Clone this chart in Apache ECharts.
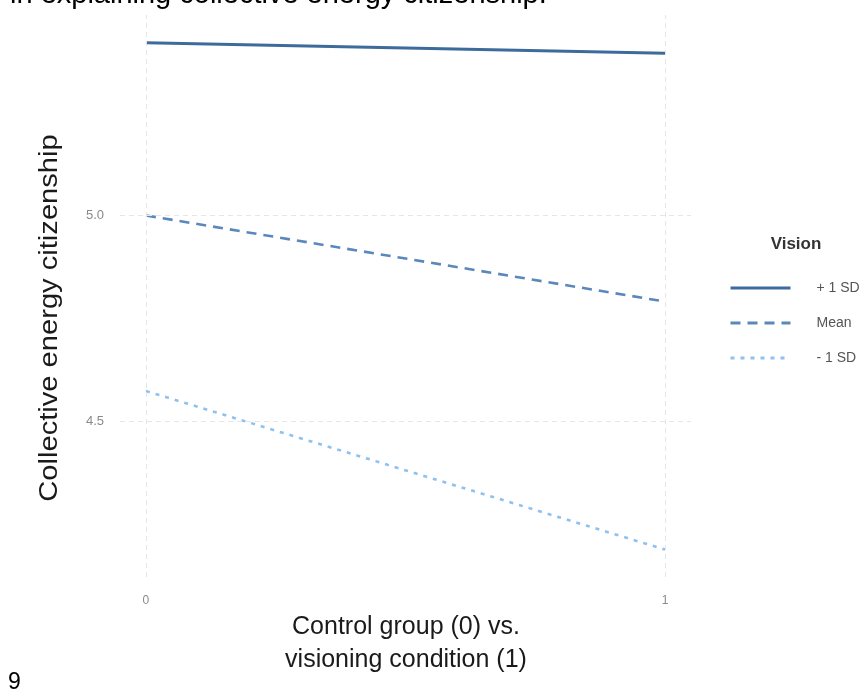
<!DOCTYPE html>
<html>
<head>
<meta charset="utf-8">
<script src="https://cdn.jsdelivr.net/npm/echarts@6/dist/echarts.min.js"></script>
<style>
html,body{margin:0;padding:0;background:#fff;}
#chart{width:864px;height:696px;}
</style>
</head>
<body>
<div id="chart"></div>
<script>
// ---- data ----
var xValues = [0, 1];
var xTickLabels = [0, 1];
var yTickLabels = [4.5, 5.0];
var seriesNames = ['+ 1 SD', 'Mean', '- 1 SD'];
var plusSD = [5.419, 5.394];
var meanVals = [5.0, 4.791];
var minusSD = [4.574, 4.189];

function pairs(xs, ys) { return xs.map(function (x, i) { return [x, ys[i]]; }); }

var chart = echarts.init(document.getElementById('chart'), null, { renderer: 'canvas' });
var gridColor = '#e6e6e6';
var option = {
  animation: false,
  backgroundColor: '#ffffff',
  textStyle: { fontFamily: 'Liberation Sans, Arial, sans-serif' },
  grid: { left: 120, right: 173, top: 15, bottom: 119, containLabel: false },
  xAxis: {
    type: 'value', min: -0.05, max: 1.05,
    axisLine: { show: false }, axisTick: { show: false }, splitLine: { show: false },
    axisLabel: {
      customValues: xTickLabels, color: '#8a8a8a', fontSize: 12, margin: 18,
      formatter: function (v) { return String(v); }
    }
  },
  yAxis: {
    type: 'value', min: 4.1225, max: 5.4866,
    axisLine: { show: false }, axisTick: { show: false }, splitLine: { show: false },
    axisLabel: {
      customValues: yTickLabels, color: '#8a8a8a', fontSize: 13, margin: 16,
      formatter: function (v) { return v.toFixed(1); }
    }
  },
  legend: {
    orient: 'vertical', left: 724, top: 276,
    itemWidth: 60, itemHeight: 14, itemGap: 21,
    data: seriesNames,
    itemStyle: { opacity: 0 },
    lineStyle: { width: 3 },
    textStyle: { color: '#555555', fontSize: 14, padding: [0, 0, 0, 21] }
  },
  series: [
    {
      type: 'line', data: [], silent: true, z: 1,
      markLine: {
        silent: true, symbol: ['none', 'none'], label: { show: false },
        lineStyle: { color: gridColor, type: [5, 4], width: 1 },
        data: [{ yAxis: yTickLabels[0] }, { yAxis: yTickLabels[1] }, { xAxis: xTickLabels[0] }, { xAxis: xTickLabels[1] }]
      }
    },
    {
      name: seriesNames[0], type: 'line', data: pairs(xValues, plusSD), symbol: 'none', z: 3,
      lineStyle: { color: '#3d6b9b', width: 3, type: 'solid' }, itemStyle: { color: '#3d6b9b' }
    },
    {
      name: seriesNames[1], type: 'line', data: pairs(xValues, meanVals), symbol: 'none', z: 3,
      lineStyle: { color: '#5b88ba', width: 2.6, type: [10, 7] }, itemStyle: { color: '#5b88ba' }
    },
    {
      name: seriesNames[2], type: 'line', data: pairs(xValues, minusSD), symbol: 'none', z: 3,
      lineStyle: { color: '#8ec1ef', width: 2.6, type: [4, 6] }, itemStyle: { color: '#8ec1ef' }
    }
  ],
  graphic: [
    { type: 'text', x: 10, y: -5, style: { text: 'in explaining collective energy citizenship.', font: '29px "Liberation Sans", Arial, sans-serif', fill: '#000', align: 'left', verticalAlign: 'middle' } },
    { type: 'text', x: 50, y: 318, rotation: Math.PI / 2, scaleX: 1.12,
      style: { text: 'Collective energy citizenship', font: '26px "Liberation Sans", Arial, sans-serif', fill: '#1a1a1a', align: 'center', verticalAlign: 'middle' } },
    { type: 'text', x: 406, y: 627,
      style: { text: 'Control group (0) vs.', font: '25px "Liberation Sans", Arial, sans-serif', fill: '#1a1a1a', align: 'center', verticalAlign: 'middle' } },
    { type: 'text', x: 406, y: 660,
      style: { text: 'visioning condition (1)', font: '25px "Liberation Sans", Arial, sans-serif', fill: '#1a1a1a', align: 'center', verticalAlign: 'middle' } },
    { type: 'text', x: 796, y: 244,
      style: { text: 'Vision', font: 'bold 17px "Liberation Sans", Arial, sans-serif', fill: '#333333', align: 'center', verticalAlign: 'middle' } },
    { type: 'text', x: 8, y: 683,
      style: { text: '9', font: '23px "Liberation Sans", Arial, sans-serif', fill: '#000', align: 'left', verticalAlign: 'middle' } }
  ]
};
chart.setOption(option);
</script>
</body>
</html>
